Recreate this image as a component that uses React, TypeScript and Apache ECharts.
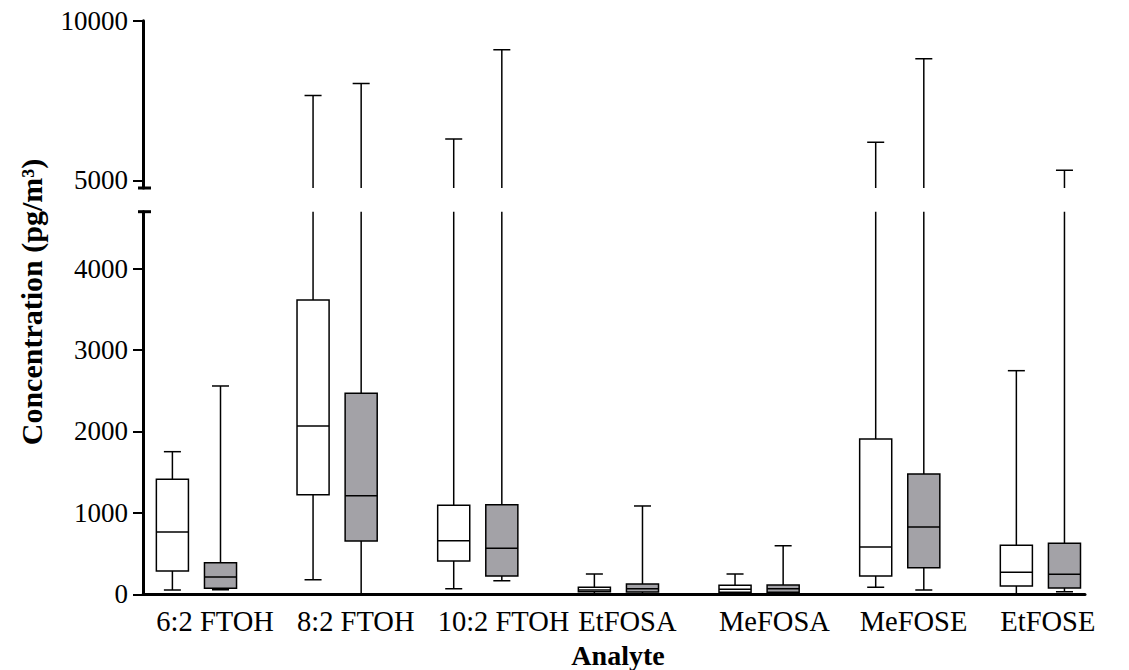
import React, { useEffect, useRef } from "react";
import * as echarts from "echarts";

const CATEGORIES = ["6:2 FTOH", "8:2 FTOH", "10:2 FTOH", "EtFOSA", "MeFOSA", "MeFOSE", "EtFOSE"];
// [min, q1, median, q3, max] in pg/m3
const WHITE_BOXES = [
  [53, 286, 765, 1413, 1752],
  [180, 1224, 2068, 3615, 7658],
  [69, 409, 659, 1093, 6296],
  [5, 32, 53, 86, 249],
  [5, 25, 61, 110, 249],
  [86, 225, 581, 1908, 6193],
  [0, 102, 270, 602, 2747],
];
const GRAY_BOXES = [
  [57, 73, 212, 388, 2559],
  [0, 655, 1211, 2469, 8035],
  [167, 225, 565, 1101, 9090],
  [5, 28, 69, 127, 1085],
  [5, 25, 69, 114, 597],
  [53, 327, 827, 1478, 8807],
  [32, 77, 245, 626, 5314],
];
const LOWER_TICKS = [0, 1000, 2000, 3000, 4000];
const UPPER_TICKS = [5000, 10000];

const FONT = '"Liberation Serif", "Times New Roman", serif';
const GRID_LEFT = 143;
const GRID_RIGHT = 44;
const UP_TOP = 20.7;
const UP_BOTTOM = 188;
const LOW_TOP = 211.7;
const LOW_BOTTOM = 594.3;
const X_MIN = -0.38;
const X_MAX = 6.317;
const BOX_W = 0.228;
const CAP_W = 0.121;
const OFF = 0.171;
const LABEL_SHIFT = 0.285;

function makeRender(off: number, fill: string) {
  return (params: any, api: any) => {
    const xc = api.coord([api.value(0) + off, 0])[0];
    const hw = api.size([BOX_W, 0])[0] / 2;
    const cw = api.size([CAP_W, 0])[0] / 2;
    const [mn, q1, md, q3, mx] = [1, 2, 3, 4, 5].map((k) => api.coord([0, api.value(k)])[1]);
    const ls = { stroke: "#000", lineWidth: 1.5 };
    return {
      type: "group",
      children: [
        { type: "line", shape: { x1: xc, y1: mn, x2: xc, y2: q1 }, style: ls },
        { type: "line", shape: { x1: xc, y1: q3, x2: xc, y2: mx }, style: ls },
        { type: "line", shape: { x1: xc - cw, y1: mn, x2: xc + cw, y2: mn }, style: ls },
        { type: "line", shape: { x1: xc - cw, y1: mx, x2: xc + cw, y2: mx }, style: ls },
        {
          type: "rect",
          shape: { x: xc - hw, y: q3, width: 2 * hw, height: q1 - q3 },
          style: { fill, stroke: "#000", lineWidth: 1.5 },
        },
        { type: "line", shape: { x1: xc - hw, y1: md, x2: xc + hw, y2: md }, style: ls },
      ],
    };
  };
}

export default function App() {
  const ref = useRef<HTMLDivElement>(null);
  useEffect(() => {
    document.body.style.margin = "0";
    const chart = echarts.init(ref.current!, null, { renderer: "svg" });
    const yCommon = {
      type: "value",
      splitLine: { show: false },
      axisLine: { show: true, onZero: false, lineStyle: { color: "#000", width: 3 } },
      axisTick: { show: true, length: 10, lineStyle: { color: "#000", width: 2 } },
      axisLabel: {
        color: "#000",
        fontFamily: FONT,
        fontSize: 27,
        margin: 15,
        formatter: (v: number) => String(v),
      },
    };
    const xCommon = {
      type: "value",
      min: X_MIN,
      max: X_MAX,
      splitLine: { show: false },
    };
    const series: any[] = [];
    [0, 1].forEach((g) => {
      series.push({
        type: "custom",
        xAxisIndex: g,
        yAxisIndex: g,
        clip: true,
        data: WHITE_BOXES.map((d, i) => [i, ...d]),
        renderItem: makeRender(-OFF, "#ffffff"),
      });
      series.push({
        type: "custom",
        xAxisIndex: g,
        yAxisIndex: g,
        clip: true,
        data: GRAY_BOXES.map((d, i) => [i, ...d]),
        renderItem: makeRender(OFF, "#a3a2a7"),
      });
    });
    chart.setOption({
      animation: false,
      grid: [
        { left: GRID_LEFT, right: GRID_RIGHT, top: UP_TOP, height: UP_BOTTOM - UP_TOP },
        { left: GRID_LEFT, right: GRID_RIGHT, top: LOW_TOP, height: LOW_BOTTOM - LOW_TOP },
      ],
      xAxis: [
        { ...xCommon, gridIndex: 0, show: false },
        {
          ...xCommon,
          gridIndex: 1,
          axisLine: { show: true, onZero: false, lineStyle: { color: "#000", width: 3 } },
          axisTick: { show: false },
          axisLabel: {
            customValues: CATEGORIES.map((_, i) => i - LABEL_SHIFT),
            formatter: (v: number) => CATEGORIES[Math.round(v + LABEL_SHIFT)] ?? "",
            align: "left",
            color: "#000",
            fontFamily: FONT,
            fontSize: 28.5,
            margin: 13,
          },
        },
      ],
      yAxis: [
        {
          ...yCommon,
          gridIndex: 0,
          min: 4760,
          max: 10000,
          axisTick: { ...yCommon.axisTick, customValues: UPPER_TICKS },
          axisLabel: { ...yCommon.axisLabel, customValues: UPPER_TICKS },
        },
        {
          ...yCommon,
          gridIndex: 1,
          min: 0,
          max: 4700,
          axisTick: { ...yCommon.axisTick, customValues: LOWER_TICKS },
          axisLabel: { ...yCommon.axisLabel, customValues: LOWER_TICKS },
        },
      ],
      graphic: [
        {
          type: "line",
          shape: { x1: GRID_LEFT - 5, y1: UP_BOTTOM, x2: GRID_LEFT + 8, y2: UP_BOTTOM },
          style: { stroke: "#000", lineWidth: 3 },
        },
        {
          type: "line",
          shape: { x1: GRID_LEFT - 5, y1: LOW_TOP, x2: GRID_LEFT + 8, y2: LOW_TOP },
          style: { stroke: "#000", lineWidth: 3 },
        },
        {
          type: "text",
          x: 31,
          y: 302,
          rotation: Math.PI / 2,
          style: {
            text: "Concentration (pg/m³)",
            font: `bold 30px ${FONT}`,
            fill: "#000",
            align: "center",
            verticalAlign: "middle",
            textAlign: "center",
            textVerticalAlign: "middle",
          },
        },
        {
          type: "text",
          x: 618,
          y: 655,
          style: {
            text: "Analyte",
            font: `bold 28px ${FONT}`,
            fill: "#000",
            align: "center",
            verticalAlign: "middle",
            textAlign: "center",
            textVerticalAlign: "middle",
          },
        },
      ],
      series,
    });
    return () => chart.dispose();
  }, []);
  return <div ref={ref} style={{ width: 1129, height: 670 }} />;
}
